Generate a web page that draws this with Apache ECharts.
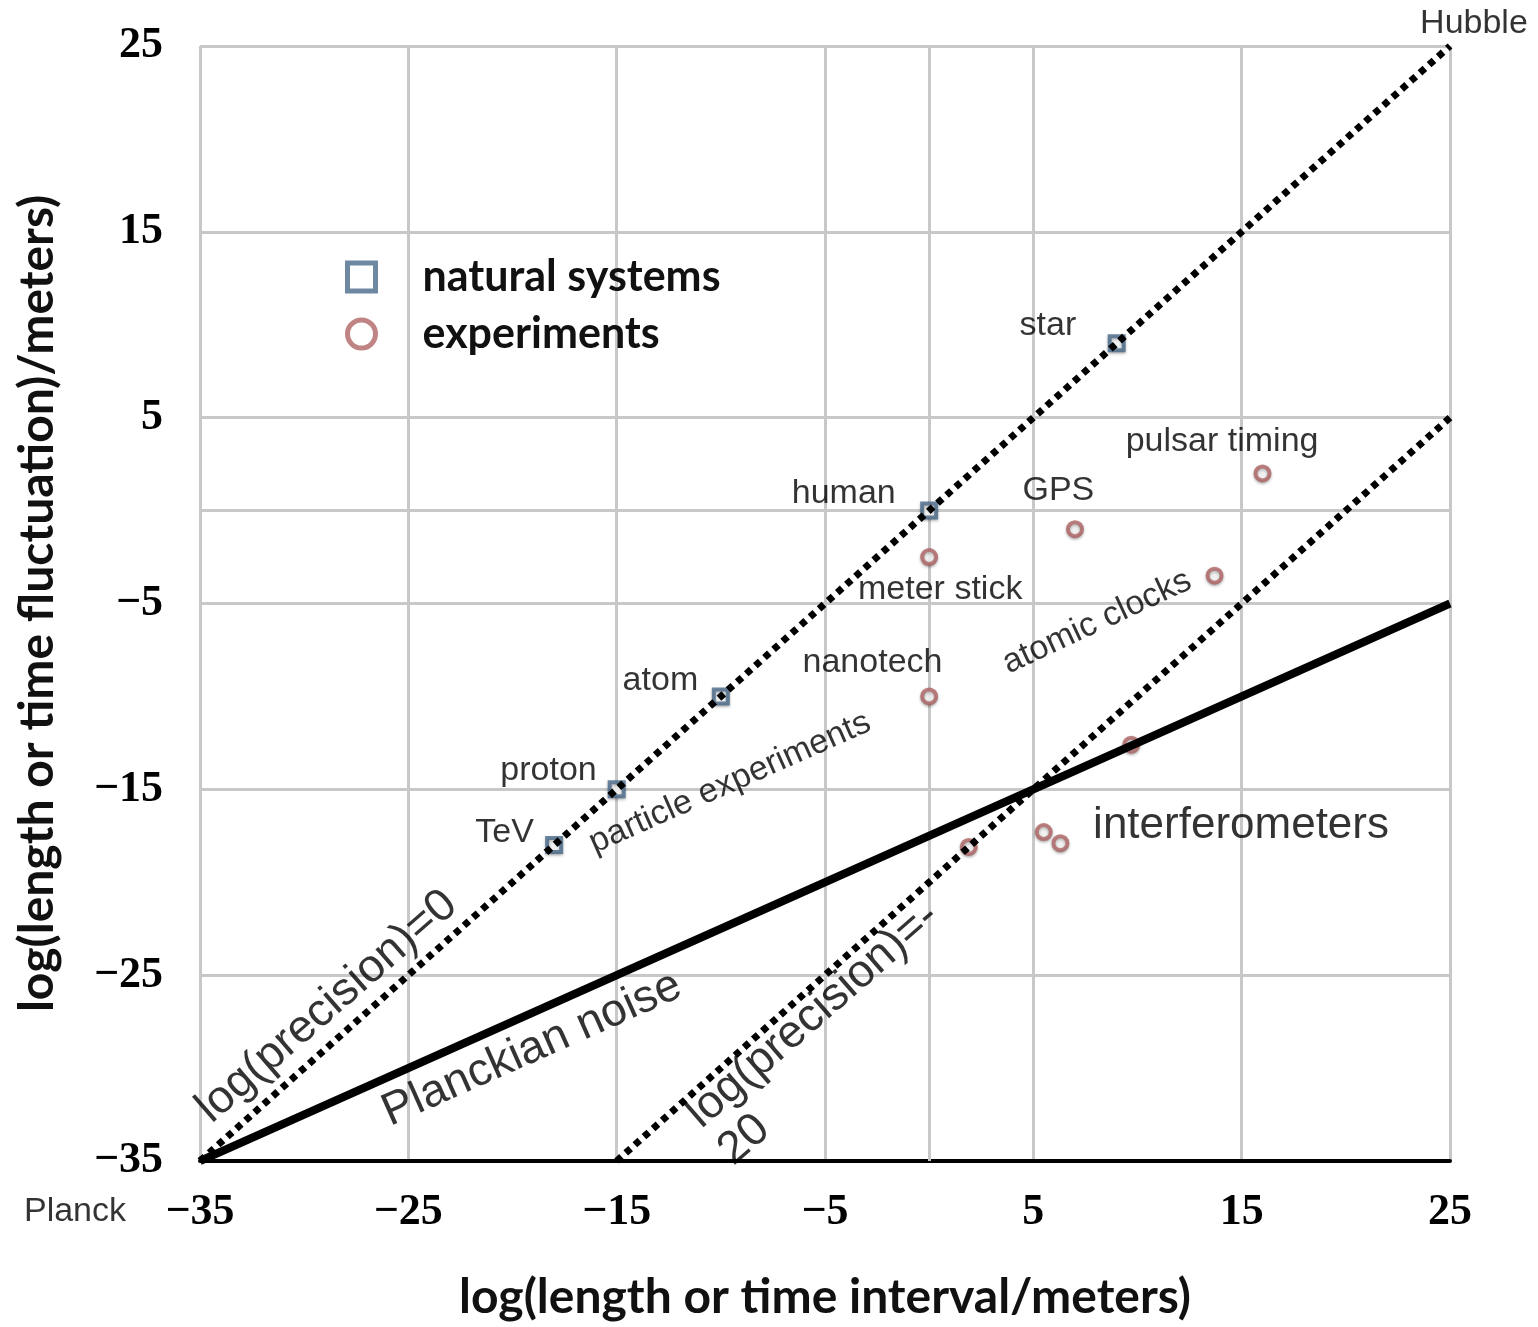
<!DOCTYPE html>
<html>
<head>
<meta charset="utf-8">
<style>
  html, body { margin: 0; padding: 0; background: #fff; }
  #chart { width: 1538px; height: 1327px; }
</style>
<script src="https://cdn.jsdelivr.net/npm/echarts@6/dist/echarts.min.js"></script>
</head>
<body>
<div id="chart"></div>
<script>
// Shared axis range, log10 of metres
const axisMin = -35;
const axisMax = 25;
const tickStep = 10;

// Natural systems: log(length) vs log(fluctuation)
const naturalNames = ['TeV', 'proton', 'atom', 'human', 'star'];
const naturalX = [-18, -15, -10, 0, 9];
const naturalY = [-18, -15, -10, 0, 9];

// Experiments
const experimentNames = ['meter stick', 'nanotech', 'GPS', 'pulsar timing', 'atomic clocks',
  'interferometer A', 'interferometer B', 'interferometer C', 'interferometer D'];
const experimentX = [0, 0, 7, 16, 13.7, 9.7, 1.9, 5.5, 6.3];
const experimentY = [-2.5, -10, -1, 2, -3.5, -12.6, -18.1, -17.3, -17.9];

// Reference lines, given by their end points
const precisionZero = [[-35, -35], [25, 25]];
const precisionMinus20 = [[-15, -35], [25, 5]];
const planckianNoise = [[-35, -35], [25, -5]];

// Text notes anchored in axis units: [text, x, y, angle, font size]
const notes = [
  ['Hubble', 26.15, 26.2, 0, 34],
  ['Planck', -41, -37.7, 0, 34],
  ['star', 5.7, 9.95, 0, 34],
  ['human', -4.1, 0.93, 0, 34],
  ['GPS', 6.2, 1.1, 0, 34],
  ['pulsar timing', 14.06, 3.72, 0, 34],
  ['meter stick', 0.53, -4.23, 0, 34],
  ['nanotech', -2.72, -8.2, 0, 34],
  ['atom', -12.9, -9.16, 0, 34],
  ['proton', -18.27, -14.0, 0, 34],
  ['TeV', -20.38, -17.33, 0, 34],
  ['interferometers', 14.97, -16.95, 0, 44],
  ['particle experiments', -9.56, -14.65, 24, 34],
  ['atomic clocks', 8.06, -6.0, 25, 34],
  ['log(precision)=0', -28.9, -26.7, 41, 46],
  ['Planckian noise', -19.06, -28.98, 24, 46],
  ['log(precision)=-', -5.57, -27.16, 41, 46],
  ['20', -8.88, -33.87, 41, 46]
];

const fmtTick = v => (v < 0 ? '\u2212' + Math.abs(v) : String(v));

const gridGray = '#c8c8c8';
const squareColor = '#4a6a8b';
const circleColor = '#b06565';

const markerShadow = {
  shadowBlur: 3,
  shadowColor: 'rgba(0,0,0,0.35)',
  shadowOffsetY: 1.5
};

const dottedLine = { type: [6.5, 5.7], width: 7, color: '#000', cap: 'butt' };

const axisCommon = {
  type: 'value',
  min: axisMin,
  max: axisMax,
  interval: tickStep,
  axisTick: { show: false },
  splitLine: { show: true, lineStyle: { color: gridGray, width: 3 } },
  nameLocation: 'middle',
  nameTextStyle: { fontFamily: 'Lato', fontWeight: 'bold', fontSize: 48, color: '#111' }
};

const tickLabel = {
  fontFamily: 'Liberation Serif',
  fontWeight: 'bold',
  fontSize: 44,
  color: '#000',
  formatter: fmtTick
};

const option = {
  animation: false,
  backgroundColor: '#fff',
  grid: { left: 200, right: 88, top: 46, bottom: 165 },
  xAxis: Object.assign({}, axisCommon, {
    name: 'log(length or time interval/meters)',
    nameGap: 113,
    axisLine: { show: true, onZero: false, lineStyle: { color: '#000', width: 4 } },
    axisLabel: Object.assign({}, tickLabel, { margin: 30 })
  }),
  yAxis: Object.assign({}, axisCommon, {
    name: 'log(length or time fluctuation)/meters)',
    nameGap: 138,
    axisLine: { show: false, onZero: false },
    axisLabel: Object.assign({}, tickLabel, { margin: 37 })
  }),
  legend: {
    orient: 'vertical',
    left: 345,
    top: 255,
    padding: 0,
    itemGap: 13,
    itemWidth: 28,
    itemHeight: 28,
    selectedMode: false,
    itemStyle: { borderWidth: 5 },
    textStyle: {
      fontFamily: 'Lato', fontWeight: 'bold', fontSize: 43, color: '#111',
      lineHeight: 44, padding: [0, 0, 0, 42]
    },
    data: [
      { name: 'natural systems', icon: 'rect' },
      { name: 'experiments', icon: 'circle' }
    ]
  },
  series: [
    {
      // gridlines through the origin
      type: 'line',
      name: 'origin lines',
      data: [],
      z: 1,
      silent: true,
      markLine: {
        silent: true,
        z: 1,
        symbol: 'none',
        label: { show: false },
        emphasis: { disabled: true },
        lineStyle: { color: gridGray, width: 3, type: 'solid' },
        data: [{ xAxis: 0 }, { yAxis: 0 }]
      }
    },
    {
      type: 'scatter',
      name: 'natural systems',
      data: naturalX.map((x, i) => ({ value: [x, naturalY[i]], name: naturalNames[i] })),
      symbol: 'rect',
      symbolSize: 14,
      itemStyle: Object.assign({ color: '#fff', borderColor: squareColor, borderWidth: 4 }, markerShadow),
      emphasis: { disabled: true },
      z: 2
    },
    {
      type: 'scatter',
      name: 'experiments',
      data: experimentX.map((x, i) => ({ value: [x, experimentY[i]], name: experimentNames[i] })),
      symbol: 'circle',
      symbolSize: 14,
      itemStyle: Object.assign({ color: '#fff', borderColor: circleColor, borderWidth: 4 }, markerShadow),
      emphasis: { disabled: true },
      z: 2
    },
    {
      type: 'line',
      name: 'log(precision)=0',
      data: precisionZero,
      showSymbol: false,
      symbol: 'none',
      lineStyle: dottedLine,
      clip: false,
      silent: true,
      z: 3
    },
    {
      type: 'line',
      name: 'log(precision)=-20',
      data: precisionMinus20,
      showSymbol: false,
      symbol: 'none',
      lineStyle: dottedLine,
      clip: false,
      silent: true,
      z: 3
    },
    {
      type: 'line',
      name: 'Planckian noise',
      data: planckianNoise,
      showSymbol: false,
      symbol: 'none',
      lineStyle: { width: 8, color: '#000', type: 'solid' },
      clip: false,
      silent: true,
      z: 3
    },
    {
      type: 'scatter',
      name: 'notes',
      data: notes.map(n => ({
        value: [n[1], n[2]],
        name: n[0],
        label: { rotate: n[3], fontSize: n[4] }
      })),
      symbolSize: 1,
      itemStyle: { color: 'rgba(0,0,0,0)' },
      label: {
        show: true,
        position: 'inside',
        formatter: '{b}',
        color: '#000',
        textBorderWidth: 0,
        fontFamily: 'Liberation Sans',
        fontSize: 34
      },
      emphasis: { disabled: true },
      clip: false,
      silent: true,
      z: 4
    }
  ]
};

const chart = echarts.init(document.getElementById('chart'), null, { renderer: 'canvas' });
chart.setOption(option);
</script>
</body>
</html>
